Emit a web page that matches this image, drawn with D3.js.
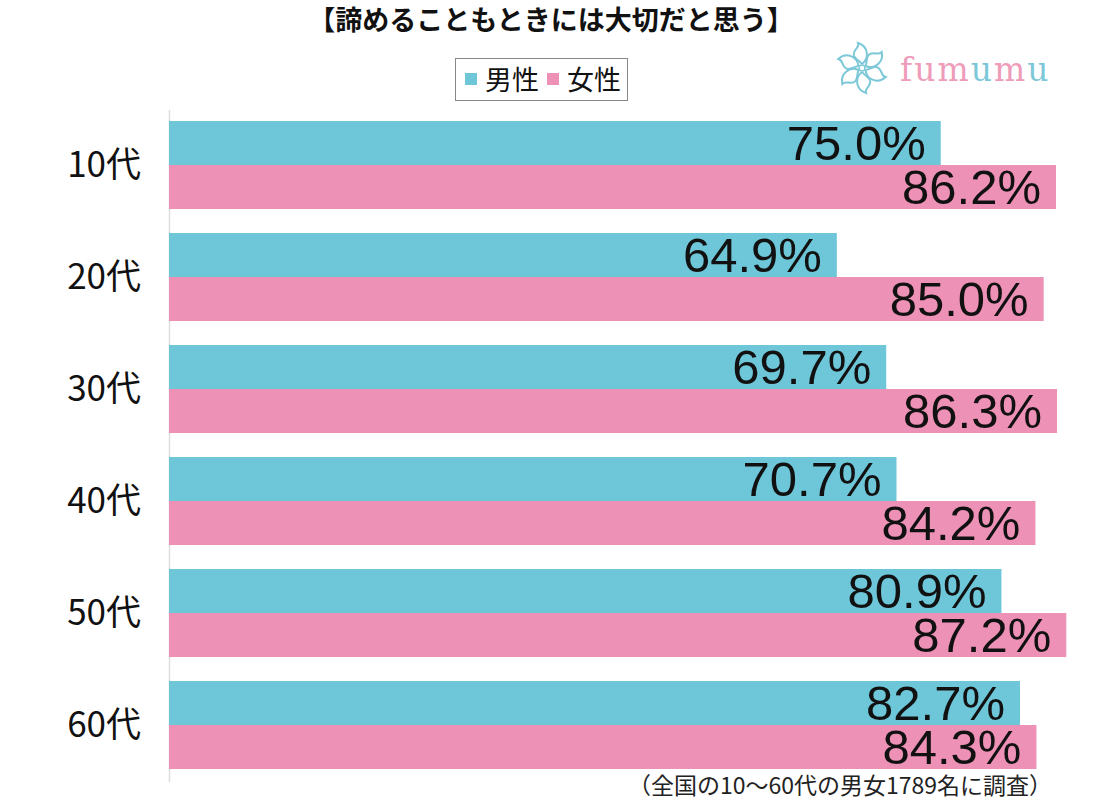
<!DOCTYPE html>
<html>
<head>
<meta charset="utf-8">
<script src="https://cdn.jsdelivr.net/npm/d3@7"></script>
<style>
  body { margin: 0; background: #fff; }
  svg { display: block; }
</style>
</head>
<body>
<div id="chart"></div>
<script>
//Datos
const categories = ['10代', '20代', '30代', '40代', '50代', '60代'];
const series = ['男性', '女性'];
const male = [75.0, 64.9, 69.7, 70.7, 80.9, 82.7];
const female = [86.2, 85.0, 86.3, 84.2, 87.2, 84.3];

//Colores fijos
const COLOR_MALE = '#6EC6D9';
const COLOR_FEMALE = '#EE91B6';
const colors = [COLOR_MALE, COLOR_FEMALE];

let width = 1102, height = 800;

let svg = d3.select('#chart')
    .append('svg')
    .attr('width', width)
    .attr('height', height);

let x = d3.scaleLinear()
    .domain([0, 100])
    .range([169, 1198]);

let y = d3.scaleBand()
    .domain(categories)
    .range([109, 781])
    .paddingInner(0.214)
    .paddingOuter(0.107);

let ySub = d3.scaleBand()
    .domain(series)
    .range([0, y.bandwidth()]);

//Titulo
svg.append('text')
    .attr('x', 551)
    .attr('y', 30)
    .attr('text-anchor', 'middle')
    .style('font-family', '"Noto Sans CJK JP"')
    .style('font-weight', 'bold')
    .style('font-size', '27px')
    .attr('fill', '#111')
    .text('【諦めることもときには大切だと思う】');

//Leyenda
let legend = svg.append('g');
legend.append('rect')
    .attr('x', 455.5).attr('y', 58.5)
    .attr('width', 172).attr('height', 42)
    .attr('fill', '#fff')
    .attr('stroke', '#888');
let legendX = [465, 547];
series.forEach(function(s, i) {
    legend.append('rect')
        .attr('x', legendX[i]).attr('y', 73)
        .attr('width', 12).attr('height', 12)
        .attr('fill', colors[i]);
    legend.append('text')
        .attr('x', legendX[i] + 20).attr('y', 90)
        .style('font-family', '"Noto Sans CJK JP"')
        .style('font-size', '27px')
        .attr('fill', '#111')
        .text(s);
});

//Logo
let logo = svg.append('g').attr('transform', 'translate(862,68)');
for (let k = 0; k < 6; k++) {
    logo.append('path')
        .attr('transform', 'rotate(' + (k * 60) + ')')
        .attr('d', 'M0,-4 C8,-10 6,-22 -4,-25 C-2,-20 -10,-18 -8,-12 C-6,-8 -2,-7 0,-4')
        .attr('fill', 'none')
        .attr('stroke', '#7CC8D8')
        .attr('stroke-width', 2);
}
logo.append('circle').attr('r', 3).attr('fill', 'none').attr('stroke', '#7CC8D8').attr('stroke-width', 1.5);
let logoText = svg.append('text')
    .attr('x', 900).attr('y', 81)
    .style('font-family', '"DejaVu Serif"')
    .style('font-size', '33px')
    .style('letter-spacing', '2px');
let logoLetters = ['f', 'u', 'm', 'u', 'm', 'u'];
let logoColors = ['#EE9CB9', '#EE9CB9', '#EE9CB9', '#7CC8D8', '#EE9CB9', '#7CC8D8'];
logoLetters.forEach(function(l, i) {
    logoText.append('tspan').attr('fill', logoColors[i]).text(l);
});

//Eje
svg.append('line')
    .attr('x1', x(0) + 0.5).attr('x2', x(0) + 0.5)
    .attr('y1', 110).attr('y2', 782)
    .attr('stroke', '#ddd')
    .attr('stroke-width', 1.5);

let yAxis = svg.append('g')
    .attr('transform', 'translate(141,0)')
    .call(d3.axisLeft(y).tickSize(0).tickPadding(0));
yAxis.select('.domain').remove();
yAxis.selectAll('.tick text')
    .style('font-family', '"Noto Sans CJK JP"')
    .style('font-size', '35px')
    .attr('fill', '#111')
    .attr('dy', '0.35em');

//Barras
let rows = [];
categories.forEach(function(c, i) {
    rows.push({ cat: c, s: series[0], v: male[i], color: COLOR_MALE });
    rows.push({ cat: c, s: series[1], v: female[i], color: COLOR_FEMALE });
});

svg.selectAll('.bar')
    .data(rows)
    .enter()
    .append('rect')
    .attr('class', 'bar')
    .attr('x', x(0))
    .attr('y', function(d) { return y(d.cat) + ySub(d.s); })
    .attr('width', function(d) { return x(d.v) - x(0); })
    .attr('height', ySub.bandwidth())
    .attr('fill', function(d) { return d.color; });

svg.selectAll('.label')
    .data(rows)
    .enter()
    .append('text')
    .attr('class', 'label')
    .attr('x', function(d) { return x(d.v) - 15; })
    .attr('y', function(d) { return y(d.cat) + ySub(d.s) + ySub.bandwidth() - 5; })
    .attr('text-anchor', 'end')
    .style('font-family', '"Liberation Sans", Arial, sans-serif')
    .style('font-size', '49px')
    .attr('fill', '#111')
    .text(function(d) { return d.v.toFixed(1) + '%'; });

//Nota
svg.append('text')
    .attr('x', 1052)
    .attr('y', 794)
    .attr('text-anchor', 'end')
    .style('font-family', '"Noto Sans CJK JP"')
    .style('font-size', '23px')
    .attr('fill', '#222')
    .text('（全国の10〜60代の男女1789名に調査）');
</script>
</body>
</html>
